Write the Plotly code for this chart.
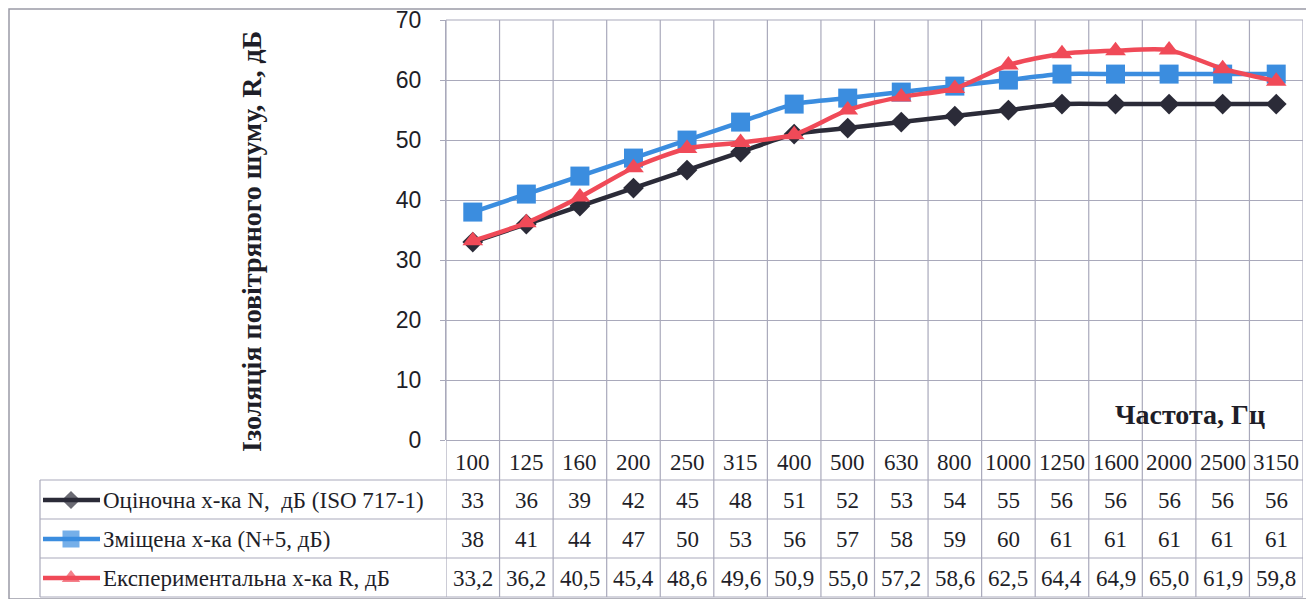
import plotly.graph_objects as go

# ---------------- data ----------------
freqs = ["100", "125", "160", "200", "250", "315", "400", "500", "630", "800",
         "1000", "1250", "1600", "2000", "2500", "3150"]
rating = [33, 36, 39, 42, 45, 48, 51, 52, 53, 54, 55, 56, 56, 56, 56, 56]
shifted = [38, 41, 44, 47, 50, 53, 56, 57, 58, 59, 60, 61, 61, 61, 61, 61]
measured = [33.2, 36.2, 40.5, 45.4, 48.6, 49.6, 50.9, 55.0, 57.2, 58.6,
            62.5, 64.4, 64.9, 65.0, 61.9, 59.8]
series_names = ["Оціночна х-ка N,  дБ (ISO 717-1)",
                "Зміщена х-ка (N+5, дБ)",
                "Експериментальна х-ка R, дБ"]
y_ticks = [0, 10, 20, 30, 40, 50, 60, 70]
y_title = "Ізоляція повітряного шуму, R, дБ"
x_title = "Частота, Гц"

# ---------------- styling ----------------
# page body has an 8px default margin; lay out in page pixels and convert
OFF = 8
W, H = 1314 - OFF, 599 - OFF
def px(x):
    return (x - OFF) / W
def py(y):
    return 1 - (y - OFF) / H

PL, PR, PT, PB = 446, 1303, 20, 440
GRID = "#a9a9bb"
SERIF = "Liberation Serif, Times New Roman, serif"
SANS = "Liberation Sans, Arial, sans-serif"
TXT = "#1e1e28"
TFONT = 23

colors = ["#2b2b38", "#3b8ddf", "#f04a58"]
symbols = ["diamond", "square", "triangle-up"]
msizes = [16, 19, 18]
all_series = [rating, shifted, measured]

x_idx = list(range(len(freqs)))

fig = go.Figure()
for vals, name, col, sym, ms in zip(all_series, series_names, colors, symbols, msizes):
    fig.add_trace(go.Scatter(
        x=x_idx, y=vals, name=name, mode="lines+markers",
        line=dict(color=col, width=4.5, shape="spline", smoothing=0.7),
        marker=dict(symbol=sym, size=ms, color=col, line=dict(width=0)),
        showlegend=False, cliponaxis=False,
    ))

# legend keys drawn in a separate full-figure pixel-space subplot
row_centers = [500, 539, 578]
for name, col, sym, ms, rc in zip(series_names, colors, symbols, msizes, row_centers):
    fig.add_trace(go.Scatter(
        x=[43, 71, 100], y=[rc, rc, rc], xaxis="x2", yaxis="y2",
        mode="lines+markers",
        line=dict(color=col, width=4.5),
        marker=dict(symbol=sym, size=[0, ms - 2, 0], color=col, line=dict(width=0)),
        showlegend=False, hoverinfo="skip", cliponaxis=False,
    ))

shapes = []
# vertical grid / table column lines
for i in range(len(freqs) + 1):
    shapes.append(dict(type="line", xref="x", yref="paper",
                       x0=i - 0.5, x1=i - 0.5, y0=py(PT), y1=py(597),
                       line=dict(color=GRID, width=1.2), layer="below"))
# top edge of plot area (70 gridline)
shapes.append(dict(type="line", xref="paper", yref="paper",
                   x0=px(PL), x1=px(PR), y0=py(PT), y1=py(PT),
                   line=dict(color=GRID, width=1.2), layer="below"))
# table row lines
for yy in [480, 519, 558, 597]:
    shapes.append(dict(type="line", xref="paper", yref="paper",
                       x0=px(40), x1=px(PR), y0=py(yy), y1=py(yy),
                       line=dict(color=GRID, width=1.2)))
# legend column left border
shapes.append(dict(type="line", xref="paper", yref="paper",
                   x0=px(40), x1=px(40), y0=py(480), y1=py(597),
                   line=dict(color=GRID, width=1.2)))
# outer chart border
shapes.append(dict(type="rect", xref="paper", yref="paper",
                   x0=px(9), x1=px(1309), y0=py(9), y1=py(599),
                   line=dict(color="#9a9aa6", width=1.5)))
shapes.append(dict(type="line", xref="paper", yref="paper",
                   x0=px(1310), x1=px(1310), y0=py(OFF), y1=py(599),
                   line=dict(color="#55555f", width=3)))

annotations = []
# category header row
for i, f in enumerate(freqs):
    annotations.append(dict(x=i, y=py(462), xref="x", yref="paper", text=f,
                            showarrow=False, xanchor="center", yanchor="middle",
                            font=dict(family=SERIF, size=TFONT, color=TXT)))
# table values
fmt = [lambda v: f"{v:d}", lambda v: f"{v:d}", lambda v: f"{v:.1f}".replace(".", ",")]
for vals, f_, rc in zip(all_series, fmt, row_centers):
    for i, v in enumerate(vals):
        annotations.append(dict(x=i, y=py(rc), xref="x", yref="paper", text=f_(v),
                                showarrow=False, xanchor="center", yanchor="middle",
                                font=dict(family=SERIF, size=TFONT, color=TXT)))
# legend labels
for name, rc in zip(series_names, row_centers):
    annotations.append(dict(x=px(101), y=py(rc), xref="paper", yref="paper", text=name,
                            showarrow=False, xanchor="left", yanchor="middle",
                            font=dict(family=SERIF, size=TFONT, color=TXT)))
# axis titles
annotations.append(dict(x=px(251), y=py(242), xref="paper", yref="paper",
                        text=f"<b>{y_title}</b>", textangle=-90, showarrow=False,
                        xanchor="center", yanchor="middle",
                        font=dict(family=SERIF, size=28, color=TXT)))
annotations.append(dict(x=px(1190), y=py(414), xref="paper", yref="paper",
                        text=f"<b>{x_title}</b>", showarrow=False,
                        xanchor="center", yanchor="middle",
                        font=dict(family=SERIF, size=28, color=TXT)))

fig.update_layout(
    width=W, height=H,
    margin=dict(l=0, r=0, t=0, b=0, autoexpand=False),
    paper_bgcolor="white", plot_bgcolor="rgba(0,0,0,0)",
    xaxis=dict(domain=[px(PL), px(PR)], range=[-0.5, len(freqs) - 0.5],
               showgrid=False, showticklabels=False, zeroline=False, ticks="",
               automargin=False, fixedrange=True),
    yaxis=dict(domain=[py(PB), py(PT)], range=[0, 70.02], tickvals=y_ticks,
               tickmode="array", ticklabeloverflow="allow",
               showgrid=True, gridcolor=GRID, gridwidth=1.2, zeroline=True,
               zerolinecolor=GRID, zerolinewidth=1.2,
               showline=True, linecolor=GRID, linewidth=1.2,
               ticks="outside", ticklen=5, tickcolor=GRID,
               ticklabelstandoff=14, automargin=False,
               tickfont=dict(family=SANS, size=23, color=TXT), fixedrange=True),
    xaxis2=dict(domain=[0, 1], range=[OFF, W + OFF], visible=False, anchor="y2",
                automargin=False, fixedrange=True),
    yaxis2=dict(domain=[0, 1], range=[H + OFF, OFF], visible=False, anchor="x2",
                automargin=False, fixedrange=True),
    shapes=shapes,
    annotations=annotations,
)

fig.write_html("out.html")
